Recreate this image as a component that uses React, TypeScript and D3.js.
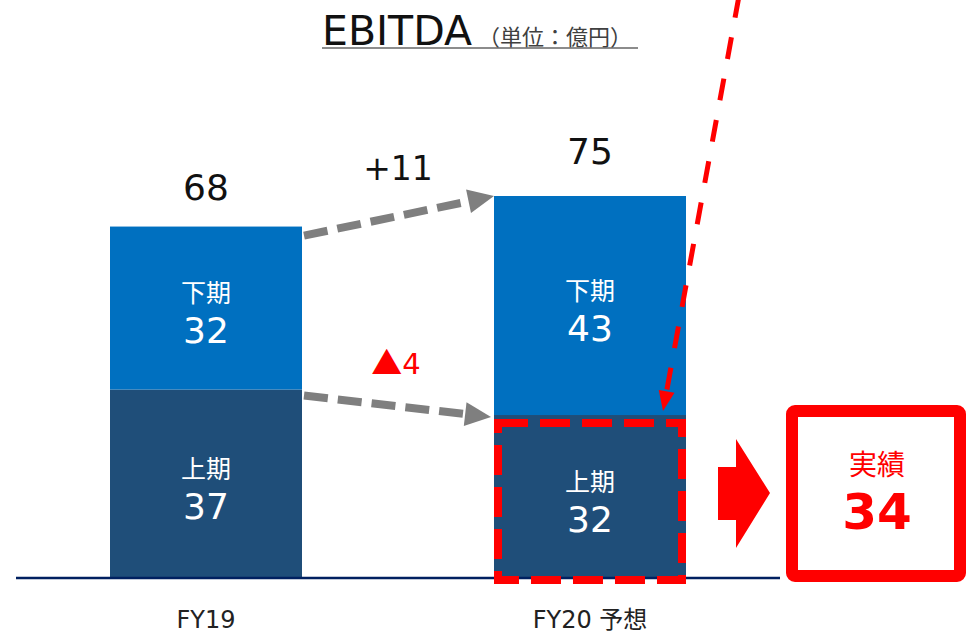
import React from 'react';
import * as d3 from 'd3';

// EBITDA (単位：億円)
const categories = ['FY19', 'FY20 予想'];
const firstHalf = [37, 32];   // 上期
const secondHalf = [32, 43];  // 下期
const totals = [68, 75];
const halfNames = ['上期', '下期'];
const deltaTotal = '+11';
const deltaFirst = ['▲', '4'];
const actualLabel = '実績';
const actualFirst = 34;

const W = 967;
const H = 636;
const FONT = '"DejaVu Sans", Verdana, "Noto Sans CJK JP", sans-serif';
const CJK = '"Noto Sans CJK JP", sans-serif';

const x = d3.scaleBand<string>().domain(categories).range([110, 686]).paddingInner(0.5).paddingOuter(0);
const y = d3.scaleLinear().domain([0, 75]).range([578, 196]);

// dashed line with a solid triangular head at `to`
function Arrow({ from, to, color, width, dash, headLen, headHalf }: any) {
  const dx = to[0] - from[0];
  const dy = to[1] - from[1];
  const len = Math.hypot(dx, dy);
  const ux = dx / len, uy = dy / len;
  const bx = to[0] - ux * headLen, by = to[1] - uy * headLen;
  const px = -uy, py = ux;
  const head = [
    [to[0], to[1]],
    [bx + px * headHalf, by + py * headHalf],
    [bx - px * headHalf, by - py * headHalf],
  ];
  return (
    <g>
      <line x1={from[0]} y1={from[1]} x2={bx + ux} y2={by + uy} stroke={color} strokeWidth={width} strokeDasharray={dash} />
      <polygon points={head.map(p => p.join(',')).join(' ')} fill={color} />
    </g>
  );
}

export default function App() {
  const bw = x.bandwidth();
  const gray = '#7f7f7f';
  const red = '#ff0000';
  const x0 = x(categories[0])!;
  const x1 = x(categories[1])!;

  return (
    <svg width={W} height={H} style={{ position: 'absolute', left: 0, top: 0, background: '#fff' }} fontFamily={FONT}>
      {/* title */}
      <text x={322} y={45} fontSize={41} fill="#111">
        EBITDA
        <tspan fontSize={22} fill="#404040" dx={6} fontFamily={CJK}>（単位：億円）</tspan>
      </text>
      <line x1={322} x2={638} y1={48} y2={48} stroke="#666" strokeWidth={1.5} />

      {/* bars */}
      {categories.map((c, i) => {
        const bx = x(c)!;
        const cx = bx + bw / 2;
        const yMid = y(firstHalf[i]);
        const yTop = y(firstHalf[i] + secondHalf[i]);
        return (
          <g key={c}>
            <rect x={bx} y={yMid} width={bw} height={y(0) - yMid} fill="#1f4e79" />
            <rect x={bx} y={yTop} width={bw} height={yMid - yTop} fill="#0070c0" />
            <text x={cx} y={(yTop + yMid) / 2 - 6} textAnchor="middle" fontSize={25} fontFamily={CJK} fill="#fff">{halfNames[1]}</text>
            <text x={cx} y={(yTop + yMid) / 2 + 35} textAnchor="middle" fontSize={36} fill="#fff">{secondHalf[i]}</text>
            <text x={cx} y={(yMid + y(0)) / 2 - 6} textAnchor="middle" fontSize={25} fontFamily={CJK} fill="#fff">{halfNames[0]}</text>
            <text x={cx} y={(yMid + y(0)) / 2 + 35} textAnchor="middle" fontSize={36} fill="#fff">{firstHalf[i]}</text>
            <text x={cx} y={y(totals[i]) - 32} textAnchor="middle" fontSize={36} fill="#111">{totals[i]}</text>
            <text x={cx} y={628} textAnchor="middle" fontSize={24} fill="#222">{c}</text>
          </g>
        );
      })}

      {/* baseline */}
      <line x1={16} x2={780} y1={y(0)} y2={y(0)} stroke="#002060" strokeWidth={2.5} />

      {/* gray change arrows */}
      <Arrow from={[x0 + bw + 2, y(totals[0]) + 4]} to={[x1, y(totals[1])]} color={gray} width={8} dash="24 10" headLen={26} headHalf={12} />
      <Arrow from={[x0 + bw + 2, y(firstHalf[0]) + 6]} to={[x1 - 3, y(firstHalf[1]) + 2]} color={gray} width={8} dash="24 10" headLen={26} headHalf={12} />
      <text x={398} y={180} textAnchor="middle" fontSize={33} fill="#111">{deltaTotal}</text>
      <text x={396} y={374} textAnchor="middle" fontSize={29} fill={red}>
        <tspan fontFamily={CJK} fontSize={31}>{deltaFirst[0]}</tspan>
        <tspan>{deltaFirst[1]}</tspan>
      </text>

      {/* red dashed highlight around FY20 上期 */}
      <rect x={x1 + 4} y={y(firstHalf[1]) + 8} width={bw - 8} height={y(0) - y(firstHalf[1]) - 6} fill="none" stroke={red} strokeWidth={8} strokeDasharray="30 12" />
      <Arrow from={[739, -4]} to={[663, y(firstHalf[1]) - 4]} color={red} width={5} dash="22 20" headLen={20} headHalf={8} />

      {/* block arrow */}
      <polygon points="718,467 736,467 736,439 770,493 736,548 736,520 718,520" fill={red} />

      {/* actual box */}
      <rect x={792} y={411} width={168} height={165} rx={3} fill="#fff" stroke={red} strokeWidth={12} />
      <text x={877} y={475} textAnchor="middle" fontSize={28} fontFamily={CJK} fill={red}>{actualLabel}</text>
      <text x={877} y={529} textAnchor="middle" fontSize={50} fontWeight="bold" fill={red}>{actualFirst}</text>
    </svg>
  );
}
